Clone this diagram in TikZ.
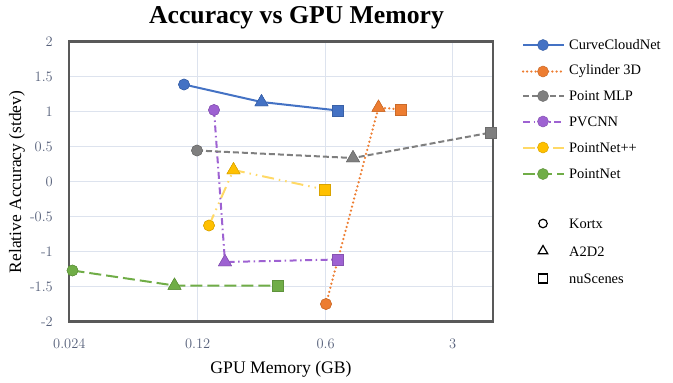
\documentclass[tikz,border=0pt]{standalone}
\usepackage{fontspec}
\newfontfamily\tnr{Liberation Serif}
\usetikzlibrary{shapes.geometric}
\definecolor{cblue}{HTML}{4472C4}
\definecolor{corange}{HTML}{ED7D31}
\definecolor{cgray}{HTML}{7F7F7F}
\definecolor{cpurple}{HTML}{9E62D2}
\definecolor{cyellow}{HTML}{FFC000}
\definecolor{cyellowline}{HTML}{FFD966}
\definecolor{cgreen}{HTML}{70AD47}
\definecolor{gridc}{HTML}{DDE3EE}
\definecolor{framec}{HTML}{595959}
\definecolor{tickc}{HTML}{56607A}
\tikzset{
  mcirc/.style={circle,fill=#1,draw=#1!85!black,line width=0.5bp,inner sep=0pt,minimum size=11bp},
  mtri/.style={regular polygon,regular polygon sides=3,fill=#1,draw=#1!85!black,line width=0.5bp,inner sep=0pt,minimum size=15bp},
  msq/.style={rectangle,fill=#1,draw=#1!85!black,line width=0.5bp,inner sep=0pt,minimum size=11bp},
  lcurve/.style={cblue,line width=2bp},
  lcyl/.style={corange,line width=2.5bp,line cap=round,dash pattern=on 0bp off 4.2bp},
  lmlp/.style={cgray,line width=2bp,dash pattern=on 6bp off 3bp},
  lpvc/.style={cpurple,line width=2bp,dash pattern=on 7bp off 3.5bp on 1.5bp off 3.5bp},
  lpnpp/.style={cyellowline,line width=2bp,dash pattern=on 12bp off 5bp on 1.5bp off 5bp on 1.5bp off 5bp},
  lpn/.style={cgreen,line width=2bp,dash pattern=on 12bp off 5bp},
  ticky/.style={anchor=east,text=tickc,font=\fontsize{14.5}{16}\selectfont,inner sep=0pt},
  tickx/.style={anchor=center,text=tickc,font=\fontsize{14.5}{16}\selectfont,inner sep=0pt},
  legtext/.style={anchor=west,font=\tnr\fontsize{14.5}{16}\selectfont,inner sep=0pt},
  gridl/.style={gridc,line width=1.2bp},
  hollow/.style={draw=black,fill=none,line width=1.2bp,inner sep=0pt}
}
\begin{document}
\begin{tikzpicture}[x=1bp,y=-1bp]
\useasboundingbox (0,0) rectangle (673,382);
% grid
\foreach \yy in {76.5,111.5,146.5,181.5,216.5,251.5,286.5} \draw[gridl] (69,\yy) -- (493,\yy);
\foreach \xx in {197.7,325.7,452.7} \draw[gridl] (\xx,41.5) -- (\xx,321.5);
\draw[framec,line width=2.2bp] (69,41.5) rectangle (493,321.5);
% ticks
\node[ticky] (t1) at (53,41.5) {2};
\node[ticky] (t2) at (53,76.5) {1.5};
\node[ticky] (t3) at (53,111.5) {1};
\node[ticky] (t4) at (53,146.5) {0.5};
\node[ticky] (t5) at (53,181.5) {0};
\node[ticky] (t6) at (53,216.5) {-0.5};
\node[ticky] (t7) at (53,251.5) {-1};
\node[ticky] (t8) at (53,286.5) {-1.5};
\node[ticky] (t9) at (53,321.5) {-2};
\node[tickx] (x1) at (69.3,344) {0.024};
\node[tickx] (x2) at (197.7,344) {0.12};
\node[tickx] (x3) at (325.7,344) {0.6};
\node[tickx] (x4) at (452.7,344) {3};
% titles
\node[font=\tnr\bfseries\fontsize{25.8}{29}\selectfont] (title) at (296.5,18) {Accuracy vs GPU Memory};
\node[font=\tnr\fontsize{17.7}{20}\selectfont] (xlab) at (281,369) {GPU Memory (GB)};
\node[font=\tnr\fontsize{17.5}{20}\selectfont,rotate=90] (ylab) at (17,182) {Relative Accuracy (stdev)};
% data: PointNet
\node[mcirc=cgreen] (pn1) at (72.5,270.5) {};
\node[mtri=cgreen] (pn2) at (174.5,285.5) {};
\node[msq=cgreen] (pn3) at (277.5,285.5) {};
\draw[lpn] (pn1.center) -- (pn2.center) -- (pn3.center);
% PointNet++
\node[mcirc=cyellow] (pp1) at (209,225.5) {};
\node[mtri=cyellow] (pp2) at (233.5,170) {};
\node[msq=cyellow] (pp3) at (324.5,189.5) {};
\draw[lpnpp] (pp1.center) -- (pp2.center) -- (pp3.center);
% PVCNN
\node[mcirc=cpurple] (pv1) at (214,110) {};
\node[mtri=cpurple] (pv2) at (225,262) {};
\node[msq=cpurple] (pv3) at (338,259.5) {};
\draw[lpvc] (pv1.center) -- (pv2.center) -- (pv3.center);
% Point MLP
\node[mcirc=cgray] (ml1) at (197,150.5) {};
\node[mtri=cgray] (ml2) at (353,158) {};
\node[msq=cgray] (ml3) at (491,132.5) {};
\draw[lmlp] (ml1.center) -- (ml2.center) -- (ml3.center);
% Cylinder 3D
\node[mcirc=corange] (cy1) at (326,304) {};
\node[mtri=corange] (cy2) at (378.5,107.5) {};
\node[msq=corange] (cy3) at (401,109.5) {};
\draw[lcyl] (cy1.center) -- (cy2.center) -- (cy3.center);
% CurveCloudNet
\node[mcirc=cblue] (cc1) at (184,84.5) {};
\node[mtri=cblue] (cc2) at (261.5,102) {};
\node[msq=cblue] (cc3) at (338,110.5) {};
\draw[lcurve] (cc1.center) -- (cc2.center) -- (cc3.center);
% redraw markers on top
\foreach \n/\c/\s in {pn1/cgreen/mcirc,pn2/cgreen/mtri,pn3/cgreen/msq,pp1/cyellow/mcirc,pp2/cyellow/mtri,pp3/cyellow/msq,pv1/cpurple/mcirc,pv2/cpurple/mtri,pv3/cpurple/msq,ml1/cgray/mcirc,ml2/cgray/mtri,ml3/cgray/msq,cy1/corange/mcirc,cy2/corange/mtri,cy3/corange/msq,cc1/cblue/mcirc,cc2/cblue/mtri,cc3/cblue/msq}
  \node[\s=\c] at (\n.center) {};
% legend
\coordinate (la1) at (523,45); \coordinate (lb1) at (564,45);
\coordinate (la2) at (523,71.5); \coordinate (lb2) at (564,71.5);
\coordinate (la3) at (523,96); \coordinate (lb3) at (564,96);
\coordinate (la4) at (523,121.5); \coordinate (lb4) at (564,121.5);
\coordinate (la5) at (523,147.5); \coordinate (lb5) at (564,147.5);
\coordinate (la6) at (523,174); \coordinate (lb6) at (564,174);
\draw[lcurve] (la1) -- (lb1); \node[mcirc=cblue] (lm1) at (543,45) {};
\draw[lcyl] (la2) -- (lb2); \node[mcirc=corange] (lm2) at (543,71.5) {};
\draw[lmlp] (la3) -- (lb3); \node[mcirc=cgray] (lm3) at (543,96) {};
\draw[lpvc] (la4) -- (lb4); \node[mcirc=cpurple] (lm4) at (543,121.5) {};
\draw[lpnpp] (la5) -- (lb5); \node[mcirc=cyellow] (lm5) at (543,147.5) {};
\draw[lpn] (la6) -- (lb6); \node[mcirc=cgreen] (lm6) at (543,174) {};
\node[legtext] (lt1) at (569,45) {CurveCloudNet};
\node[legtext] (lt2) at (569,71.5) {Cylinder 3D};
\node[legtext] (lt3) at (569,96) {Point MLP};
\node[legtext] (lt4) at (569,121.5) {PVCNN};
\node[legtext] (lt5) at (569,147.5) {PointNet++};
\node[legtext] (lt6) at (569,174) {PointNet};
% shape legend
\node[hollow,circle,minimum size=8.5bp] (s1) at (543,223.5) {};
\node[hollow,regular polygon,regular polygon sides=3,minimum size=11bp] (s2) at (543,251) {};
\node[hollow,rectangle,minimum size=9bp] (s3) at (543,278.5) {};
\node[legtext] (st1) at (569,223.5) {Kortx};
\node[legtext] (st2) at (569,251.5) {A2D2};
\node[legtext] (st3) at (569,278.5) {nuScenes};
\end{tikzpicture}
\end{document}
